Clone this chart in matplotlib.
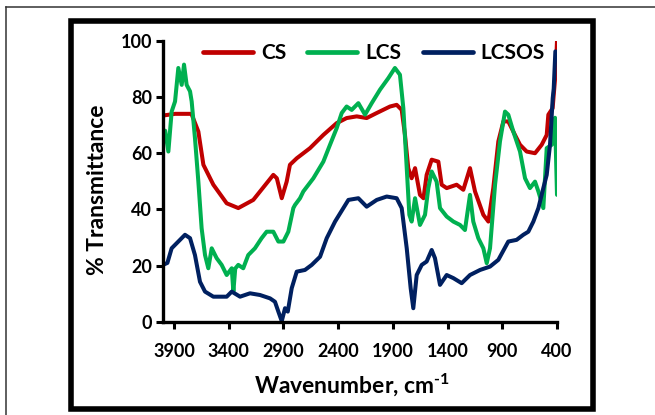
import matplotlib
matplotlib.use("Agg")
import matplotlib.pyplot as plt
from matplotlib.patches import Rectangle
from matplotlib.lines import Line2D

plt.rcParams['font.family'] = ['Lato', 'DejaVu Sans']
plt.rcParams['font.weight'] = 'bold'
plt.rcParams['mathtext.fontset'] = 'custom'
plt.rcParams['mathtext.rm'] = 'Lato:bold'
plt.rcParams['mathtext.bf'] = 'Lato:bold'
plt.rcParams['mathtext.it'] = 'Lato:bold'

# ---- data ----
wn_cs = [4000, 3890, 3740, 3677, 3631, 3540, 3418, 3312, 3175, 2992, 2960, 2915, 2870, 2840,
         2778, 2657, 2535, 2413, 2322, 2230, 2139, 2047, 1926, 1865, 1819, 1789, 1759, 1728,
         1697, 1652, 1620, 1591, 1545, 1484, 1454, 1408, 1317, 1256, 1195, 1149, 1073, 1027,
         982, 936, 890, 845, 784, 738, 677, 601, 540, 494, 479, 440, 410, 400]
t_cs = [73.4, 74, 74, 67.7, 55.9, 48.8, 42.2, 40.5, 43.4, 52.3, 51.1, 44, 49.9, 55.9,
        58.2, 61.8, 66.5, 70.7, 72.5, 73.1, 72.5, 74.3, 76.6, 77.2, 75.4, 66.5, 54.7, 51.1,
        54.7, 45.2, 44, 52.3, 57.7, 57, 48.8, 47.6, 48.8, 47, 54.7, 46.4, 38.1, 35.7,
        47.6, 64.2, 71.3, 71.3, 66.5, 63, 60.6, 60, 63, 66.5, 73.7, 76, 90, 100]

wn_lcs = [4000, 3980, 3951, 3921, 3890, 3860, 3829, 3808, 3784, 3753, 3738, 3708, 3677, 3647,
          3616, 3586, 3555, 3510, 3464, 3418, 3372, 3357, 3340, 3312, 3267, 3221, 3160, 3099,
          3053, 2992, 2946, 2900, 2855, 2809, 2794, 2748, 2718, 2626, 2535, 2474, 2413, 2367,
          2322, 2276, 2215, 2154, 2093, 2017, 1941, 1881, 1835, 1804, 1773, 1749, 1728, 1697,
          1652, 1606, 1576, 1545, 1500, 1469, 1408, 1347, 1286, 1241, 1195, 1165, 1119, 1073,
          1042, 1012, 966, 921, 875, 845, 799, 738, 692, 647, 601, 570, 525, 494, 448, 418, 400]
t_lcs = [66.5, 68, 60.6, 74.8, 78.4, 90.3, 84.3, 91.5, 84.3, 82, 78.4, 65.4, 49.9, 33.3,
         23.8, 19.1, 26.2, 22.7, 20.3, 16.7, 19.1, 10.8, 19, 20.3, 19.1, 23.8, 26.2, 29.8,
         32.1, 32.1, 28.6, 28.6, 32.1, 40.5, 41.6, 44, 46.4, 51.1, 57, 63, 68.9, 74.3,
         76.6, 75.4, 77.8, 73.7, 77.8, 82.6, 86.7, 90.3, 87.9, 76, 54.7, 38.1, 35.7, 44,
         34.5, 38.1, 47.6, 53.5, 49.9, 40.5, 37.5, 35.7, 34.5, 32.7, 45.2, 35.7, 29.8, 26.2,
         20.9, 26.2, 48.8, 64.2, 74.8, 73.7, 67.7, 60.6, 51.1, 47.6, 49.9, 46.4, 40.5, 61.8, 63, 72.6, 45.2]

wn_lcsos = [4000, 3960, 3921, 3860, 3799, 3753, 3708, 3662, 3616, 3540, 3418, 3372, 3296, 3205,
            3114, 3022, 2977, 2946, 2915, 2885, 2860, 2824, 2778, 2703, 2641, 2565, 2504, 2428,
            2352, 2306, 2215, 2139, 2047, 1956, 1865, 1819, 1773, 1737, 1713, 1682, 1636, 1591,
            1545, 1515, 1469, 1408, 1347, 1271, 1195, 1103, 1012, 936, 845, 769, 708, 662,
            616, 570, 525, 494, 464, 439, 430, 415, 400]
t_lcsos = [20.3, 21, 26.2, 28.6, 31, 29.8, 23.8, 14.3, 10.8, 9, 9, 10.8, 9, 10.2,
           9.6, 8.4, 7.2, 3.7, 0.3, 4.9, 3.7, 12, 17.9, 18.5, 20.3, 23.2, 29.8, 35.7,
           40.5, 43.4, 44, 41, 43.4, 44.6, 44, 40.5, 26.2, 12, 4.9, 16.7, 20.3, 21.5,
           25.6, 22.7, 13.2, 16.7, 15.6, 13.8, 16.7, 18.5, 19.7, 22.1, 28.6, 29.2, 31, 32.1,
           35.7, 40.5, 47.6, 52.3, 63, 79.6, 83, 96.2, 96]

series_names = ["CS", "LCS", "LCSOS"]
series_colors = ["#C00000", "#00B050", "#002060"]
x_ticks = [3900, 3400, 2900, 2400, 1900, 1400, 900, 400]
y_ticks = [0, 20, 40, 60, 80, 100]

# ---- figure ----
W, H = 655, 415
fig = plt.figure(figsize=(W / 100, H / 100), dpi=100)
fig.patch.set_facecolor("white")

def fx(px):
    return px / W

def fy(py):
    return (H - py) / H

# outer thin border (top and left visible)
fig.add_artist(Line2D([fx(5.5), 1.0], [fy(7.5), fy(7.5)], color="#333333", lw=1.1))
fig.add_artist(Line2D([fx(5.5), fx(5.5)], [fy(7.5), 0.0], color="#333333", lw=1.1))
# inner thick box
fig.add_artist(Rectangle((fx(70.5), fy(408.5)), fx(593) - fx(70.5), fy(21) - fy(408.5),
                         fill=False, edgecolor="black", lw=4.0, joinstyle="miter"))

ax = fig.add_axes([fx(163), fy(322), fx(557) - fx(163), fy(40.7) - fy(322)])
ax.set_facecolor("none")

for wn, t, name, c in zip([wn_cs, wn_lcs, wn_lcsos], [t_cs, t_lcs, t_lcsos], series_names, series_colors):
    ax.plot(wn, t, color=c, lw=2.9, label=name, solid_joinstyle="round", solid_capstyle="round")

ax.set_xlim(4000, 400)
ax.set_ylim(0, 100)
ax.set_xticks(x_ticks)
ax.set_yticks(y_ticks)
ax.set_xticklabels([str(v) for v in x_ticks])
ax.set_yticklabels([str(v) for v in y_ticks])
for s in ["top", "right"]:
    ax.spines[s].set_visible(False)
for s in ["left", "bottom"]:
    ax.spines[s].set_linewidth(2.4)
ax.tick_params(axis="both", direction="out", length=5, width=2.2, labelsize=13)
ax.tick_params(axis="x", pad=10)
ax.tick_params(axis="y", pad=3)
for lab in ax.get_xticklabels() + ax.get_yticklabels():
    lab.set_fontweight("bold")

fig.text(fx(352), fy(385), r"Wavenumber, cm$^{\text{-1}}$", ha="center", va="center",
         fontsize=16.5, fontweight="bold")
fig.text(fx(97), fy(190), "% Transmittance", ha="center", va="center",
         rotation=90, fontsize=16.5, fontweight="bold")

leg = ax.legend(loc="center", bbox_to_anchor=(fx(374), fy(53)), bbox_transform=fig.transFigure,
                ncol=3, frameon=False, fontsize=15, handlelength=2.4, handletextpad=0.4,
                columnspacing=1.0, borderpad=0)
for h in leg.get_lines():
    h.set_linewidth(3.4)
for tx in leg.get_texts():
    tx.set_fontweight("bold")

fig.savefig("out.png", dpi=100)
